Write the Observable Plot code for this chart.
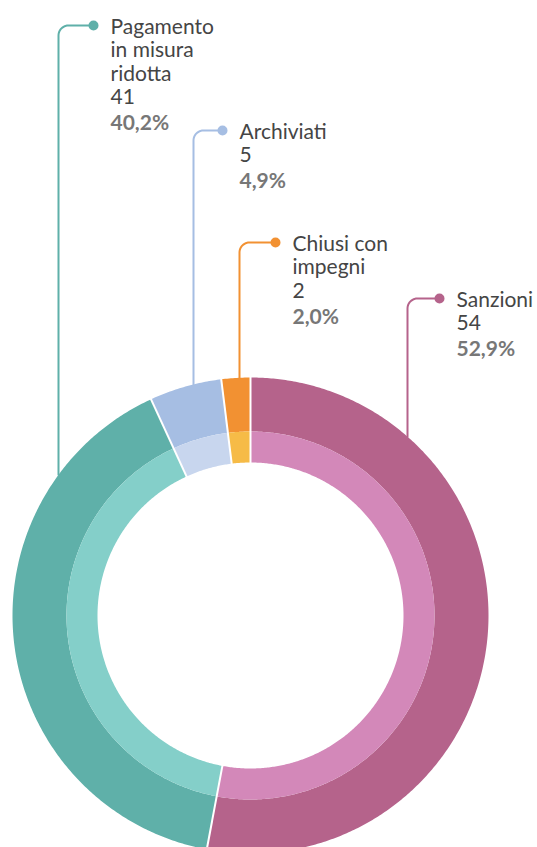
<!DOCTYPE html>
<html>
<head>
<meta charset="utf-8">
<script src="https://cdn.jsdelivr.net/npm/d3@7"></script>
<script src="https://cdn.jsdelivr.net/npm/@observablehq/plot@0.6"></script>
<style>
  html, body { margin: 0; padding: 0; background: #fff; }
  #chart svg { display: block; }
</style>
</head>
<body>
<div id="chart"></div>
<script>
// ---- data ----
const categories = ["Sanzioni", "Pagamento in misura ridotta", "Archiviati", "Chiusi con impegni"];
const values = [54, 41, 5, 2];
const percentLabels = ["52,9%", "40,2%", "4,9%", "2,0%"];
const nameLines = [["Sanzioni"], ["Pagamento", "in misura", "ridotta"], ["Archiviati"], ["Chiusi con", "impegni"]];
const outerColors = ["#b5638b", "#5fb0a9", "#a6bee3", "#f29132"];
const innerColors = ["#d388b9", "#84cfc9", "#c8d6ee", "#f6bb47"];

// ---- layout (pixels) ----
const W = 537, H = 847;
const cx = 250, cy = 615;
const R_OUT = 238, R_MID = 184, R_IN = 153;
const labelLayout = [
  {dotX: 439, dotY: 298, elbowX: 407},
  {dotX: 93,  dotY: 25,  elbowX: 58},
  {dotX: 222, dotY: 130, elbowX: 193},
  {dotX: 275, dotY: 242, elbowX: 239}
];
const FS = 21;

// ---- geometry from data ----
const arcs = d3.pie().sort(null).startAngle(0).endAngle(2 * Math.PI)(values);
const polar = (r, a) => ({x: r * Math.sin(a), y: -r * Math.cos(a)});

const slicePts = [];
function ring(i, ringName, r0, r1) {
  const a0 = arcs[i].startAngle, a1 = arcs[i].endAngle;
  const n = Math.max(2, Math.ceil((a1 - a0) / (Math.PI / 360)));
  const key = categories[i] + "|" + ringName;
  for (let k = 0; k <= n; k++) slicePts.push({...polar(r1, a0 + (a1 - a0) * k / n), key});
  for (let k = n; k >= 0; k--) slicePts.push({...polar(r0, a0 + (a1 - a0) * k / n), key});
}
categories.forEach((c, i) => { ring(i, "outer", R_MID, R_OUT); ring(i, "inner", R_IN, R_MID); });

const colorDomain = [], colorRange = [];
categories.forEach((c, i) => {
  colorDomain.push(c + "|outer"); colorRange.push(outerColors[i]);
  colorDomain.push(c + "|inner"); colorRange.push(innerColors[i]);
});

const separators = arcs.map((a) => {
  const p0 = polar(R_IN - 1, a.startAngle), p1 = polar(R_OUT + 1, a.startAngle);
  return {x1: p0.x, y1: p0.y, x2: p1.x, y2: p1.y};
});

// leader lines
const leaderPts = [];
const rc = 10;
labelLayout.forEach((L, i) => {
  const ex = L.elbowX - cx, dy = L.dotY - cy, dx = L.dotX - cx;
  const yEdge = -Math.sqrt(R_OUT * R_OUT - ex * ex);
  const id = categories[i];
  leaderPts.push({x: ex, y: yEdge, id});
  for (let k = 0; k <= 12; k++) {
    const t = (Math.PI / 2) * k / 12;
    leaderPts.push({x: ex + rc - rc * Math.cos(t), y: dy + rc - rc * Math.sin(t), id});
  }
  leaderPts.push({x: dx, y: dy, id});
});
const dots = labelLayout.map((L, i) => ({x: L.dotX - cx, y: L.dotY - cy, id: categories[i]}));

// text lines
const textLines = [], pctLines = [];
labelLayout.forEach((L, i) => {
  const tx = L.dotX + 17 - cx;
  const base = L.dotY + 8;
  const lines = [...nameLines[i], String(values[i])];
  lines.forEach((s, k) => {
    textLines.push({x: tx, y: base + k * 23.5 - cy - 0.71 * FS, s});
  });
  const last = base + (lines.length - 1) * 23.5;
  pctLines.push({x: tx, y: last + 26 - cy - 0.71 * FS, s: percentLabels[i]});
});

const leaderColor = Object.fromEntries(categories.map((c, i) => [c, outerColors[i]]));

const chart = Plot.plot({
  width: W, height: H,
  margin: 0,
  x: {domain: [-cx, W - cx], range: [0, W], axis: null},
  y: {domain: [-cy, H - cy], range: [0, H], axis: null},
  color: {domain: colorDomain, range: colorRange},
  style: {fontFamily: "Lato, 'Open Sans', sans-serif", background: "#fff"},
  marks: [
    Plot.line(slicePts, {x: "x", y: "y", z: "key", fill: "key", stroke: "none", curve: "linear"}),
    Plot.link(separators, {x1: "x1", y1: "y1", x2: "x2", y2: "y2", stroke: "#fff", strokeWidth: 2}),
    Plot.line(leaderPts, {x: "x", y: "y", z: "id", stroke: d => leaderColor[d.id], strokeWidth: 2, curve: "linear"}),
    Plot.dot(dots, {x: "x", y: "y", r: 5, fill: d => leaderColor[d.id], stroke: "none"}),
    Plot.text(textLines, {x: "x", y: "y", text: "s", textAnchor: "start", lineAnchor: "top", fontSize: FS, fill: "#454545"}),
    Plot.text(pctLines, {x: "x", y: "y", text: "s", textAnchor: "start", lineAnchor: "top", fontSize: FS, fontWeight: "bold", fill: "#777777"})
  ]
});
document.getElementById("chart").appendChild(chart);
</script>
</body>
</html>
